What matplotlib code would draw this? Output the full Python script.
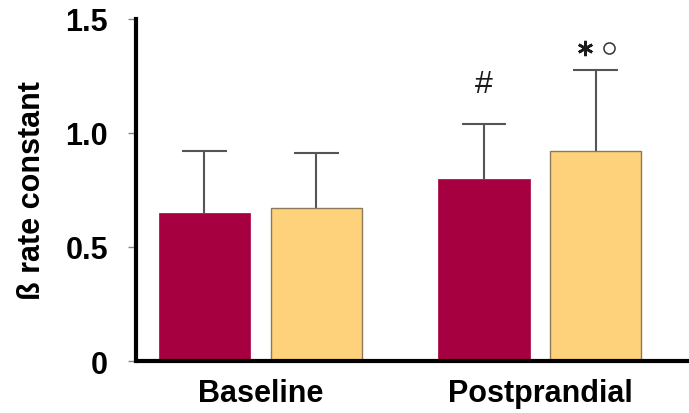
import numpy as np
import matplotlib
matplotlib.use("Agg")
import matplotlib.pyplot as plt

plt.rcParams['font.family'] = ['Liberation Sans', 'DejaVu Sans']

# data
groups = ["Baseline", "Postprandial"]
series1 = [0.65, 0.80]      # crimson bars
series1_err = [0.27, 0.24]
series2 = [0.67, 0.92]      # yellow bars
series2_err = [0.24, 0.355]
yticks = [0, 0.5, 1.0, 1.5]
yticklabels = ["0", "0.5", "1.0", "1.5"]

crimson = "#A60041"
yellow = "#FED27A"
errc = "#555555"

fig = plt.figure(figsize=(6.89, 4.14), dpi=100)
ax = fig.add_axes([0.197, 0.1256, 0.803, 0.8264])

x = np.arange(len(groups))
w = 0.326
off = 0.2
cap = 0.08

ax.bar(x - off, series1, w, color=crimson, edgecolor=crimson, linewidth=0.5, zorder=2)
ax.bar(x + off, series2, w, color=yellow, edgecolor="#8a7a5a", linewidth=1.0, zorder=2)

# upper error bars only
for xs, v, e in [(x - off, series1, series1_err), (x + off, series2, series2_err)]:
    tops = np.array(v) + np.array(e)
    ax.vlines(xs, v, tops, color=errc, linewidth=1.5, zorder=1)
    ax.hlines(tops, xs - cap, xs + cap, color=errc, linewidth=1.5, zorder=1)

# significance marks
ax.text(x[1] - off, series1[1] + series1_err[1] + 0.175, "#", ha="center",
        va="center", fontsize=23, color="#1a1a1a")
mark_y = series2[1] + series2_err[1] + 0.098
ax.plot([x[1] + off - 0.038], [mark_y], marker=(6, 2, 0), ms=11, mew=1.9,
        color="#1a1a1a", clip_on=False)
ax.plot([x[1] + off + 0.048], [mark_y], "o", ms=8, mfc="white",
        mec="#333333", mew=1.1, clip_on=False)

ax.set_xlim(-0.445, 1.533)
ax.set_ylim(0, 1.5)
ax.set_yticks(yticks)
ax.set_yticklabels(yticklabels, fontsize=22, fontweight="bold")
ax.set_xticks(x)
ax.set_xticklabels(groups, fontsize=22, fontweight="bold")
ax.tick_params(axis="x", length=0, pad=12)
ax.tick_params(axis="y", length=6, width=1, color="#888888", pad=14)
ax.set_ylabel("ß rate constant", fontsize=22, fontweight="bold", labelpad=13)

for s in ["top", "right"]:
    ax.spines[s].set_visible(False)
ax.spines["left"].set_linewidth(3)
ax.spines["bottom"].set_linewidth(3)
ax.spines["bottom"].set_capstyle("butt")

fig.savefig("out.png", dpi=100)
